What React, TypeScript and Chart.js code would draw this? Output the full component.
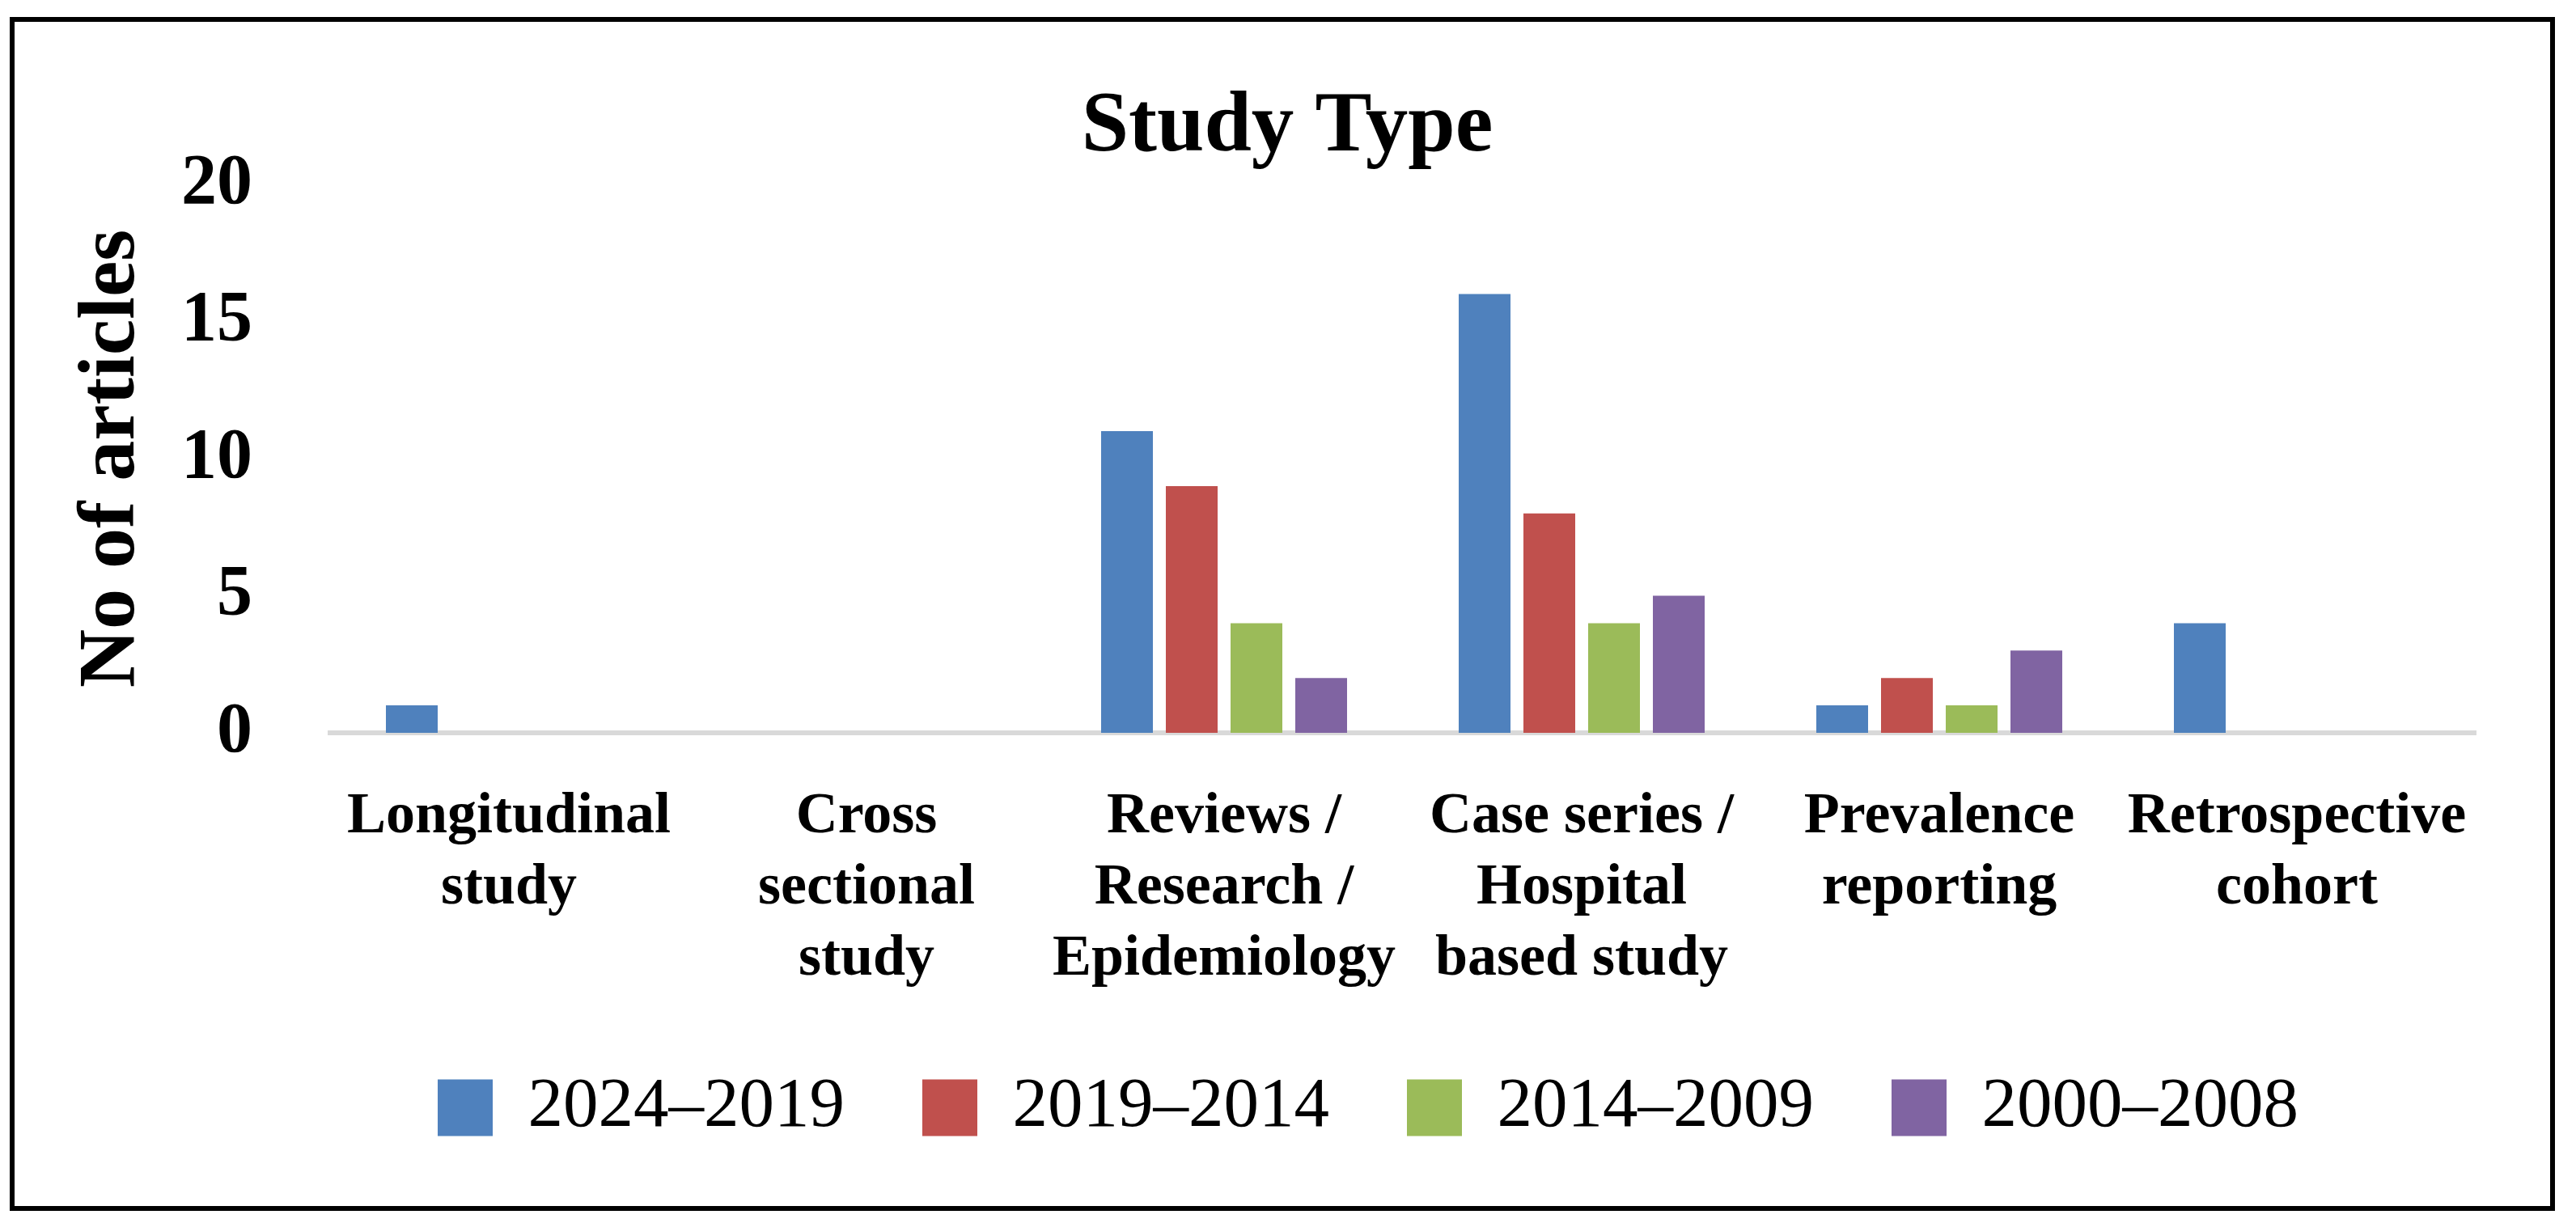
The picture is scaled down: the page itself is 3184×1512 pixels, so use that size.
import React, { useEffect, useRef } from 'react';
import { Chart, registerables } from 'chart.js';

Chart.register(...registerables);

const FONT = '"Liberation Serif", "Times New Roman", serif';

const categories: string[][] = [
  ['Longitudinal', 'study'],
  ['Cross', 'sectional', 'study'],
  ['Reviews /', 'Research /', 'Epidemiology'],
  ['Case series /', 'Hospital', 'based study'],
  ['Prevalence', 'reporting'],
  ['Retrospective', 'cohort'],
];
const seriesNames = ['2024–2019', '2019–2014', '2014–2009', '2000–2008'];
const s2024_2019 = [1, 0, 11, 16, 1, 4];
const s2019_2014 = [0, 0, 9, 8, 2, 0];
const s2014_2009 = [0, 0, 4, 4, 1, 0];
const s2000_2008 = [0, 0, 2, 5, 3, 0];
const yTicks = [0, 5, 10, 15, 20];
const seriesColors = ['#4F81BD', '#C0504D', '#9BBB59', '#8064A2'];

const TITLE_SHIFT = 61;
const LEGEND_SHIFT = 161;

const shiftPlugin = {
  id: 'shiftBlocks',
  afterLayout(chart: any) {
    const t = chart.titleBlock;
    if (t) {
      t.left += TITLE_SHIFT;
      t.right += TITLE_SHIFT;
    }
    const l = chart.legend;
    if (l) {
      l.left += LEGEND_SHIFT;
      l.right += LEGEND_SHIFT;
    }
  },
};

export default function App() {
  const ref = useRef<HTMLCanvasElement | null>(null);

  useEffect(() => {
    if (!ref.current) return;
    const values = [s2024_2019, s2019_2014, s2014_2009, s2000_2008];
    const chart = new Chart(ref.current, {
      type: 'bar',
      data: {
        labels: categories,
        datasets: seriesNames.map((name, i) => ({
          label: name,
          data: values[i],
          backgroundColor: seriesColors[i],
          borderWidth: 0,
          barPercentage: 0.8,
          categoryPercentage: 0.724,
        })),
      },
      options: {
        responsive: true,
        maintainAspectRatio: false,
        animation: false,
        layout: { padding: { left: 0, right: 124, top: 0, bottom: 89 } },
        plugins: {
          title: {
            display: true,
            text: 'Study Type',
            color: '#000',
            font: { family: FONT, size: 105, weight: 'bold', lineHeight: 1.2 },
            padding: { top: 96, bottom: 6 },
          },
          legend: {
            position: 'bottom',
            labels: {
              color: '#000',
              font: { family: FONT, size: 87, weight: 'normal', lineHeight: 1.2 },
              boxWidth: 68,
              boxHeight: 70,
              padding: 96,
            },
          },
          tooltip: { enabled: false },
        },
        scales: {
          x: {
            z: 1,
            grid: { display: false, drawTicks: false },
            border: { display: true, color: '#D9D9D9', width: 6 },
            ticks: {
              color: '#000',
              font: { family: FONT, size: 72, weight: 'bold', lineHeight: 1.222 },
              padding: 60,
              maxRotation: 0,
              autoSkip: false,
            },
            afterFit: (s: any) => {
              s.height = 324;
            },
          },
          y: {
            min: 0,
            max: 20,
            grid: { display: false, drawTicks: false },
            border: { display: false },
            afterBuildTicks: (s: any) => {
              s.ticks = yTicks.map((v) => ({ value: v }));
            },
            ticks: {
              color: '#000',
              font: { family: FONT, size: 88, weight: 'bold' },
              padding: 96,
            },
            title: {
              display: true,
              text: 'No of articles',
              color: '#000',
              font: { family: FONT, size: 100, weight: 'bold', lineHeight: 1.2 },
              padding: { top: 79, bottom: 0 },
            },
            afterFit: (s: any) => {
              s.width = 408;
            },
          },
        },
      },
      plugins: [shiftPlugin],
    } as any);
    return () => chart.destroy();
  }, []);

  return (
    <div style={{ position: 'absolute', left: 0, top: 0, width: 3184, height: 1512, background: '#fff' }}>
      <canvas ref={ref} />
      <div
        style={{
          position: 'absolute',
          left: 12,
          top: 21,
          width: 3146,
          height: 1476,
          border: '6px solid #000',
          boxSizing: 'border-box',
          pointerEvents: 'none',
        }}
      />
    </div>
  );
}
